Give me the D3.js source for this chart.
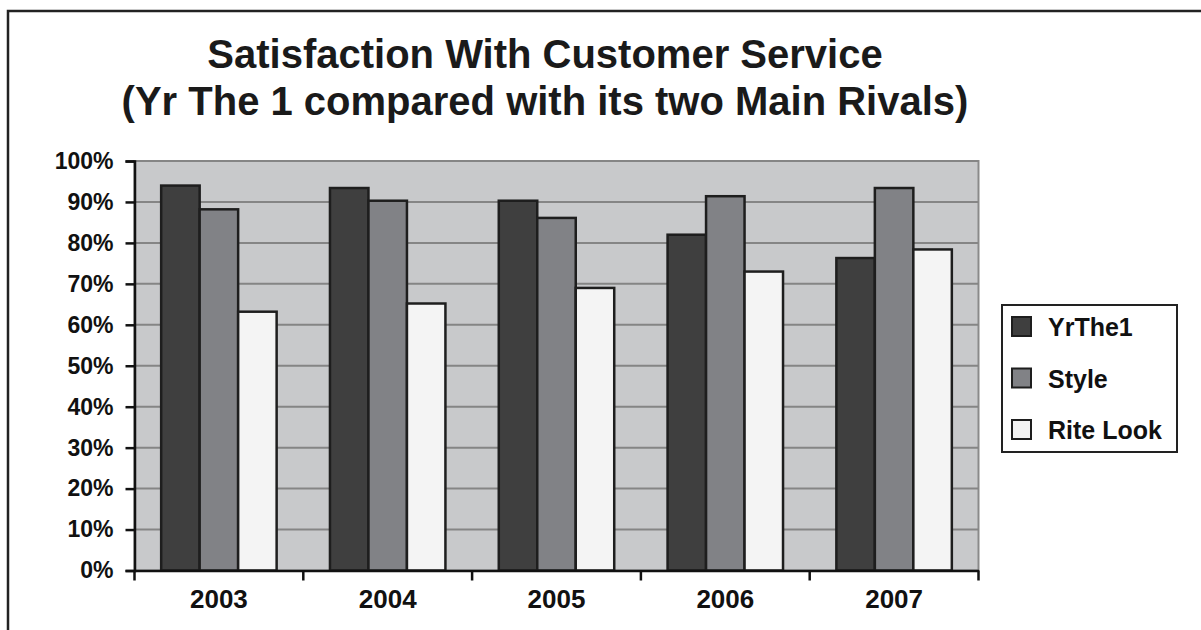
<!DOCTYPE html>
<html>
<head>
<meta charset="utf-8">
<script src="https://cdn.jsdelivr.net/npm/d3@7/dist/d3.min.js"></script>
<style>
  body { margin: 0; background: #fff; }
  svg { display: block; font-family: "Liberation Sans", Arial, sans-serif; font-weight: bold; }
</style>
</head>
<body>
<div id="chart"></div>
<script>
// data
const years = ["2003", "2004", "2005", "2006", "2007"]
const seriesNames = ["YrThe1", "Style", "Rite Look"]
const yrThe1 = [94, 93.4, 90.3, 82, 76.3]
const style = [88.2, 90.3, 86.1, 91.4, 93.4]
const riteLook = [63.2, 65.2, 69, 73, 78.4]
const yTicks = [0, 10, 20, 30, 40, 50, 60, 70, 80, 90, 100]
const titleLines = ["Satisfaction With Customer Service", "(Yr The 1 compared with its two Main Rivals)"]

const colors = { "YrThe1": "#3f3f3f", "Style": "#818286", "Rite Look": "#f4f4f4" }

const width = 1201, height = 630
const plot = { left: 134.5, top: 161, right: 978.5, bottom: 570.5 }

const svg = d3.select("#chart").append("svg")
    .attr("width", width)
    .attr("height", height)

// outer frame (goes off the page right/bottom)
svg.append("rect")
    .attr("x", 8).attr("y", 11)
    .attr("width", 1400).attr("height", 800)
    .attr("fill", "none")
    .attr("stroke", "#222")
    .attr("stroke-width", 2.5)

// title
svg.append("g").selectAll("text")
    .data(titleLines)
    .enter()
    .append("text")
    .attr("x", 545)
    .attr("y", (d, i) => 68 + i * 47)
    .attr("text-anchor", "middle")
    .attr("font-size", 40)
    .attr("fill", "#1a1a1a")
    .text(d => d)

const x0 = d3.scaleBand().domain(years).range([plot.left, plot.right]).padding(0)
const bw = x0.bandwidth()
const gap = bw * 0.158
const x1 = d3.scaleBand().domain(seriesNames).range([gap, bw - gap]).padding(0)
const y = d3.scaleLinear().domain([0, 100]).range([plot.bottom, plot.top])

// plot background
svg.append("rect")
    .attr("x", plot.left).attr("y", plot.top)
    .attr("width", plot.right - plot.left)
    .attr("height", plot.bottom - plot.top)
    .attr("fill", "#c8c9cb")
    .attr("stroke", "#8a8a8a")
    .attr("stroke-width", 2)

// gridlines
svg.append("g").selectAll("line")
    .data(yTicks.filter(d => d > 0))
    .enter()
    .append("line")
    .attr("x1", plot.left).attr("x2", plot.right)
    .attr("y1", d => y(d)).attr("y2", d => y(d))
    .attr("stroke", "#858585")
    .attr("stroke-width", 2)

// bars
const table = years.map((yr, i) => ({
    year: yr,
    values: [
        { name: "YrThe1", v: yrThe1[i] },
        { name: "Style", v: style[i] },
        { name: "Rite Look", v: riteLook[i] }
    ]
}))

svg.append("g").selectAll("g")
    .data(table)
    .enter()
    .append("g")
    .attr("transform", d => `translate(${x0(d.year)},0)`)
    .selectAll("rect")
    .data(d => d.values)
    .enter()
    .append("rect")
    .attr("x", d => x1(d.name))
    .attr("y", d => y(d.v))
    .attr("width", x1.bandwidth())
    .attr("height", d => y(0) - y(d.v))
    .attr("fill", d => colors[d.name])
    .attr("stroke", "#1e1e1e")
    .attr("stroke-width", 2.5)

// y axis
const yAxis = svg.append("g")
    .attr("transform", `translate(${plot.left},0)`)
    .call(d3.axisLeft(y).tickValues(yTicks).tickFormat(d => d + "%").tickSize(9).tickPadding(12))
yAxis.select(".domain").attr("stroke", "#111").attr("stroke-width", 2.5)
yAxis.selectAll(".tick line").attr("stroke", "#111").attr("stroke-width", 2.5)
yAxis.selectAll("text")
    .attr("font-size", 23)
    .attr("font-family", "'Liberation Sans', Arial, sans-serif")
    .attr("font-weight", "bold")
    .attr("fill", "#111")

// x axis
const xAxis = svg.append("g")
    .attr("transform", `translate(0,${plot.bottom})`)
    .call(d3.axisBottom(x0).tickSize(0).tickPadding(19))
xAxis.select(".domain").attr("stroke", "#111").attr("stroke-width", 2.5)
xAxis.selectAll("text")
    .attr("font-size", 26)
    .attr("font-family", "'Liberation Sans', Arial, sans-serif")
    .attr("font-weight", "bold")
    .attr("fill", "#111")

// category boundary ticks
svg.append("g").selectAll("line")
    .data(years.map(d => x0(d)).concat([plot.right]))
    .enter()
    .append("line")
    .attr("x1", d => d).attr("x2", d => d)
    .attr("y1", plot.bottom).attr("y2", plot.bottom + 10)
    .attr("stroke", "#111")
    .attr("stroke-width", 2.5)

// legend
const legend = svg.append("g")
legend.append("rect")
    .attr("x", 1002).attr("y", 305)
    .attr("width", 175).attr("height", 147)
    .attr("fill", "#fff")
    .attr("stroke", "#222")
    .attr("stroke-width", 2)

const item = legend.selectAll(".item")
    .data(seriesNames)
    .enter()
    .append("g")
    .attr("class", "item")
    .attr("transform", (d, i) => `translate(1012,${327 + i * 51.5})`)

item.append("rect")
    .attr("x", 0).attr("y", -10)
    .attr("width", 19).attr("height", 19)
    .attr("fill", d => colors[d])
    .attr("stroke", "#1e1e1e")
    .attr("stroke-width", 2)

item.append("text")
    .attr("x", 36)
    .attr("y", 9)
    .attr("font-size", 25)
    .attr("fill", "#111")
    .text(d => d)
</script>
</body>
</html>
